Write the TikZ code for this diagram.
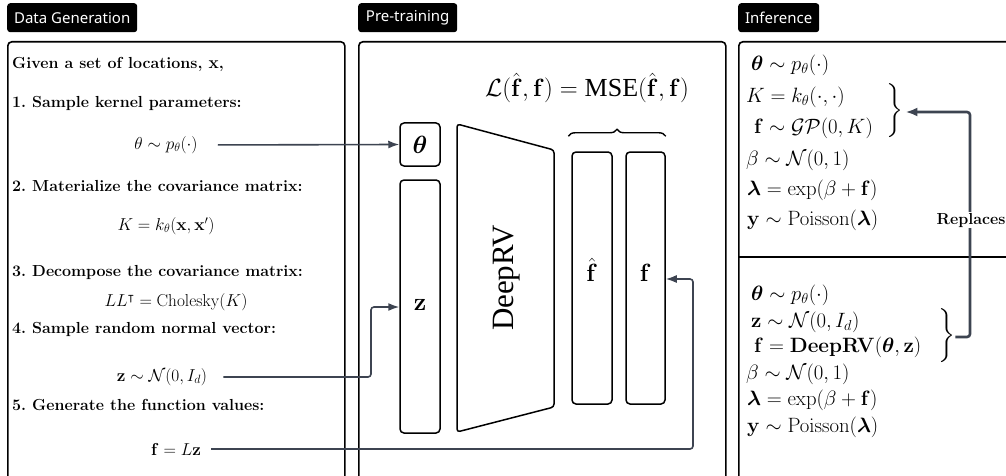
\documentclass[tikz,border=0pt]{standalone}
\usepackage{amsmath,amssymb,bm}
\usepackage[no-math]{fontspec}
\newfontfamily\labelfont{Noto Sans}
\newfontfamily\timesf{Liberation Serif}
\usetikzlibrary{arrows.meta,decorations.pathreplacing}
\definecolor{arrowc}{HTML}{3D4451}
\tikzset{
  tag/.style={fill=black, rounded corners=3pt, text=white, font=\labelfont\fontsize{15}{17}\selectfont, inner sep=0pt, minimum height=29pt, anchor=north west},
  panel/.style={draw, line width=1.6pt, rounded corners=4pt, anchor=north west, inner sep=0pt},
  vbox/.style={draw, line width=1.5pt, rounded corners=4pt, inner sep=0pt},
  dtext/.style={anchor=west, inner sep=0pt, font=\bfseries\fontsize{16}{19}\selectfont},
  dmath/.style={inner sep=0pt, font=\fontsize{17}{20}\selectfont},
  imath/.style={anchor=west, inner sep=0pt, font=\fontsize{22.5}{25}\selectfont},
  arr/.style={draw=arrowc, line width=1.6pt, rounded corners=3pt, -{Latex[length=11pt,width=8pt]}},
  bigarr/.style={draw=arrowc, line width=2.6pt, rounded corners=3pt, -{Latex[length=12pt,width=9pt]}},
}
\begin{document}
\begin{tikzpicture}[x=1pt,y=-1pt]
\useasboundingbox (0,0) rectangle (1006,476);
\clip (0,0) rectangle (1006,476);
\fill[white] (0,0) rectangle (1006,476);

% tags
\node[tag, minimum width=130pt] (tdg) at (7,3) {Data Generation};
\node[tag, minimum width=99pt] (tpt) at (358,3) {Pre-training};
\node[tag, minimum width=81pt] (tinf) at (738,3) {Inference};

% panels
\node[panel, minimum width=337pt, minimum height=450pt] (pdg) at (7,41) {};
\node[panel, minimum width=367pt, minimum height=450pt] (ppt) at (358,41) {};
\node[panel, minimum width=290pt, minimum height=450pt] (pinf) at (738,41) {};
\coordinate (dl) at (738,257);
\coordinate (dr) at (1010,257);
\draw[line width=1.6pt] (dl) -- (dr);

% data generation text
\node[dtext] (g0) at (12,64) {Given a set of locations, $\mathbf{x}$,};
\node[dtext] (g1) at (12,103) {1.\ Sample kernel parameters:};
\node[dmath] (f1) at (166,145) {$\theta\sim p_\theta(\cdot)$};
\node[dtext] (g2) at (12,186) {2.\ Materialize the covariance matrix:};
\node[dmath] (f2) at (166,226) {$K=k_\theta(\mathbf{x},\mathbf{x}')$};
\node[dtext] (g3) at (12,272) {3.\ Decompose the covariance matrix:};
\node[dmath] (f3) at (176,302) {$LL^{\intercal}=\mathrm{Cholesky}(K)$};
\node[dtext] (g4) at (12,329) {4.\ Sample random normal vector:};
\node[dmath] (f4) at (162,377) {$\mathbf{z}\sim\mathcal{N}(0,I_d)$};
\node[dtext] (g5) at (12,405) {5.\ Generate the function values:};
\node[dmath] (f5) at (176,449) {$\mathbf{f}=L\mathbf{z}$};

% pre-training
\node[inner sep=0pt, font=\fontsize{26}{28}\selectfont] (loss) at (587,88) {$\mathcal{L}(\hat{\mathbf{f}},\mathbf{f})=\text{\timesf MSE}(\hat{\mathbf{f}},\mathbf{f})$};
\node[vbox, minimum width=40pt, minimum height=43pt] (thb) at (420,144.5) {};
\node[font=\fontsize{26}{28}\selectfont, inner sep=0pt] (tht) at (420,144.5) {$\boldsymbol{\theta}$};
\node[vbox, minimum width=40pt, minimum height=253pt] (zb) at (420,306.5) {};
\node[font=\fontsize{26}{28}\selectfont, inner sep=0pt] (zt) at (420,305) {$\mathbf{z}$};
\draw[line width=1.5pt, rounded corners=3pt] (457,124) -- (554,150) -- (554,407) -- (457,432) -- cycle;
\node[rotate=90, inner sep=0pt, font=\timesf\fontsize{31}{33}\selectfont] (drv) at (507,278) {DeepRV};
\node[vbox, minimum width=40pt, minimum height=252pt] (fhb) at (592,278) {};
\node[font=\fontsize{26}{28}\selectfont, inner sep=0pt] (fht) at (592,270) {$\hat{\mathbf{f}}$};
\node[vbox, minimum width=39pt, minimum height=252pt] (fb) at (645.5,278) {};
\node[font=\fontsize{26}{28}\selectfont, inner sep=0pt] (ft) at (645.5,273) {$\mathbf{f}$};
\draw[line width=1.4pt, decorate, decoration={brace, amplitude=7pt}] ([xshift=-3pt,yshift=15pt]fhb.north west) -- ([yshift=15pt]fb.north east);

% arrows from data generation
\draw[arr, shorten <=20pt] (f1.east) -- (thb.west);
\coordinate (zc) at (371,307);
\draw[arr, shorten <=16pt] (f4.east) -| (zc) -- (zb.west |- zc);
\coordinate (fc) at (693,279);
\draw[arr, shorten <=10pt] (f5.east) -| (fc) -- (fb.east |- fc);

% inference top
\node[imath] (i1) at (751,65) {$\boldsymbol{\theta}\sim p_\theta(\cdot)$};
\node[imath] (i2) at (746,97) {$K=k_\theta(\cdot,\cdot)$};
\node[imath] (i3) at (754,128) {$\mathbf{f}\sim\mathcal{GP}(0,K)$};
\node[imath] (i4) at (746,160) {$\beta\sim\mathcal{N}(0,1)$};
\node[imath] (i5) at (747,190) {$\boldsymbol{\lambda}=\exp(\beta+\mathbf{f})$};
\node[imath] (i6) at (747,220) {$\mathbf{y}\sim\mathrm{Poisson}(\boldsymbol{\lambda})$};
\node[imath] (b1) at (885,112) {$\left.\vrule height 24pt depth 24pt width 0pt\right\}$};

% inference bottom
\node[imath] (j1) at (751,295) {$\boldsymbol{\theta}\sim p_\theta(\cdot)$};
\node[imath] (j2) at (751,322) {$\mathbf{z}\sim\mathcal{N}(0,I_d)$};
\node[imath] (j3) at (754,347) {$\mathbf{f}=\mathbf{DeepRV}(\boldsymbol{\theta},\mathbf{z})$};
\node[imath] (j4) at (746,374) {$\beta\sim\mathcal{N}(0,1)$};
\node[imath] (j5) at (747,400) {$\boldsymbol{\lambda}=\exp(\beta+\mathbf{f})$};
\node[imath] (j6) at (747,427) {$\mathbf{y}\sim\mathrm{Poisson}(\boldsymbol{\lambda})$};
\node[imath] (b2) at (937,337) {$\left.\vrule height 24pt depth 24pt width 0pt\right\}$};

% replaces arrow
\coordinate (r1) at (970,337);
\coordinate (r2) at (970,112);
\draw[bigarr, shorten >=2pt] (b2.east) -- (r1) -- (r2) -- (b1.east);
\node[fill=white, inner sep=1pt, font=\bfseries\fontsize{16}{18}\selectfont] (rep) at (971,220) {Replaces};
\end{tikzpicture}
\end{document}
